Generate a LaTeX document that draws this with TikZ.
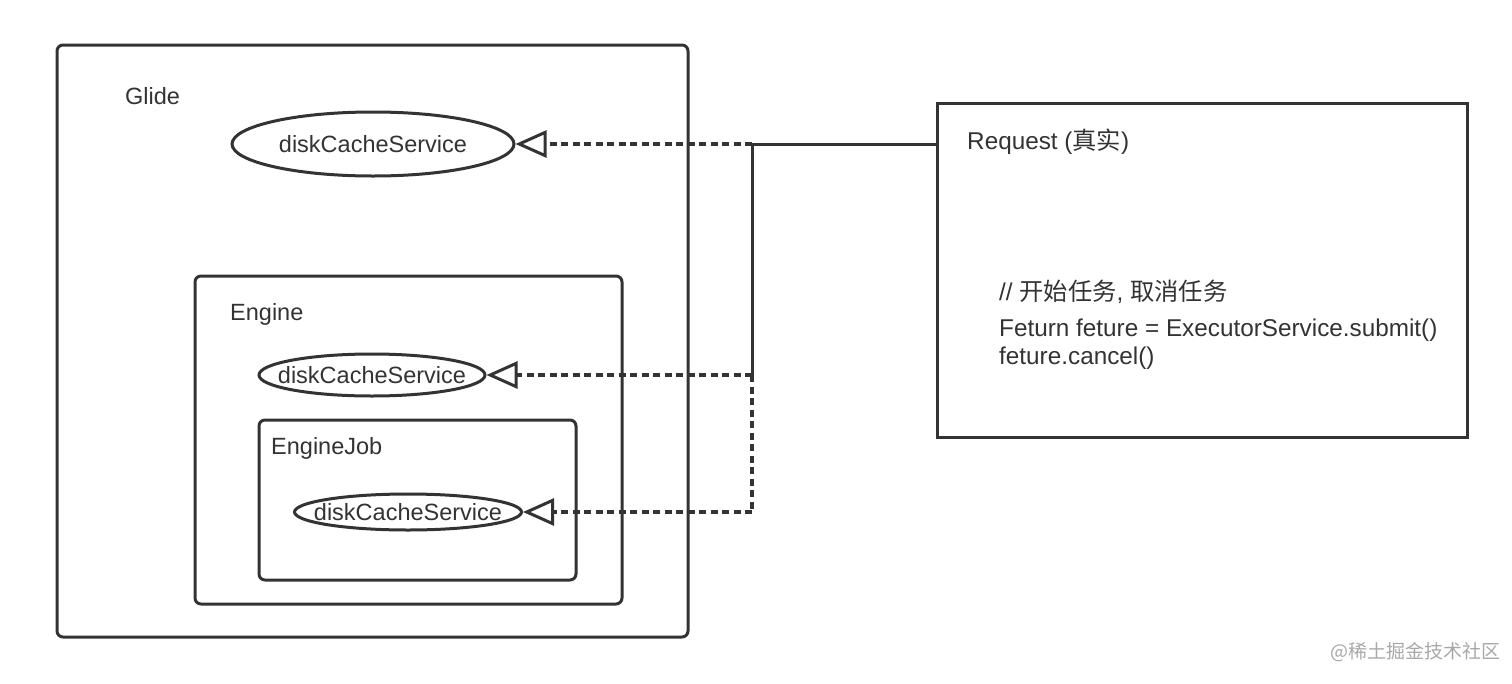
\documentclass[tikz,border=0pt]{standalone}
\usepackage{fontspec}
\setmainfont{Liberation Sans}
\newfontfamily\cjk{Noto Sans CJK SC}
\usetikzlibrary{shapes.geometric,arrows.meta}
\definecolor{ink}{HTML}{333333}
\definecolor{wm}{HTML}{A8A8A8}
\begin{document}
\begin{tikzpicture}[x=1pt,y=-1pt,
  box/.style={draw=ink,line width=3pt,rounded corners=6pt},
  sqbox/.style={draw=ink,line width=3pt},
  oval/.style={ellipse,draw=ink,line width=3pt,inner sep=0pt},
  ovaltext/.style={inner sep=0pt,font=\fontsize{23.5}{28}\selectfont,text=ink},
  lbl/.style={anchor=west,inner sep=0pt,font=\fontsize{23.5}{28}\selectfont,text=ink},
  code/.style={anchor=west,inner sep=0pt,font=\fontsize{24.3}{29}\selectfont,text=ink},
  solidline/.style={draw=ink,line width=3pt},
  dotline/.style={draw=ink,line width=3.2pt,dash pattern=on 7pt off 4.5pt},
  tip/.style={-{Triangle[open,length=31pt,width=27pt,line width=3pt]}}
]
\useasboundingbox (0,0) rectangle (1512,683);
% boxes
\draw[box] (57,45) rectangle (688,637);
\draw[box] (195,276) rectangle (622,604);
\draw[box] (259,420) rectangle (576,580);
\node[sqbox,minimum width=530pt,minimum height=334pt,inner sep=0pt] (req) at (1202,270) {};
% labels
\node[lbl] (glide) at (125,96) {Glide};
\node[lbl] (engine) at (230,314) {Engine};
\node[lbl] (job) at (271,448) {EngineJob};
\node[code] (reqlbl) at (967,142) {Request ({\cjk 真实})};
\node[code] (c1) at (999,292) {// {\cjk 开始任务}, {\cjk 取消任务}};
\node[code] (c2) at (999,330) {Feturn feture = ExecutorService.submit()};
\node[code] (c3) at (999,358) {feture.cancel()};
% ellipses
\node[oval,minimum width=282pt,minimum height=64pt] (e1) at (373,144) {};
\node[oval,minimum width=226pt,minimum height=42pt] (e2) at (372,375) {};
\node[oval,minimum width=227pt,minimum height=36pt] (e3) at (408,512) {};
\node[ovaltext] (t1) at (e1.center) {diskCacheService};
\node[ovaltext] (t2) at (e2.center) {diskCacheService};
\node[ovaltext] (t3) at (e3.center) {diskCacheService};
% junctions
\coordinate (j1) at (752,144);
\coordinate (j2) at (752,375);
\coordinate (j3) at (752,512);
% connectors
\draw[solidline] (req.west |- j1) -- (j1) -- (j2);
\draw[dotline,tip] (j1) -- (e1.east);
\draw[dotline,tip] (j2) -- (e2.east);
\draw[dotline] (j2) -- (j3);
\draw[dotline,tip] (j3) -- (e3.east);
% watermark
\node[anchor=west,inner sep=0pt,text=wm,font=\cjk\fontsize{19}{22}\selectfont] (wmk) at (1330,652) {@稀土掘金技术社区};
\end{tikzpicture}
\end{document}
